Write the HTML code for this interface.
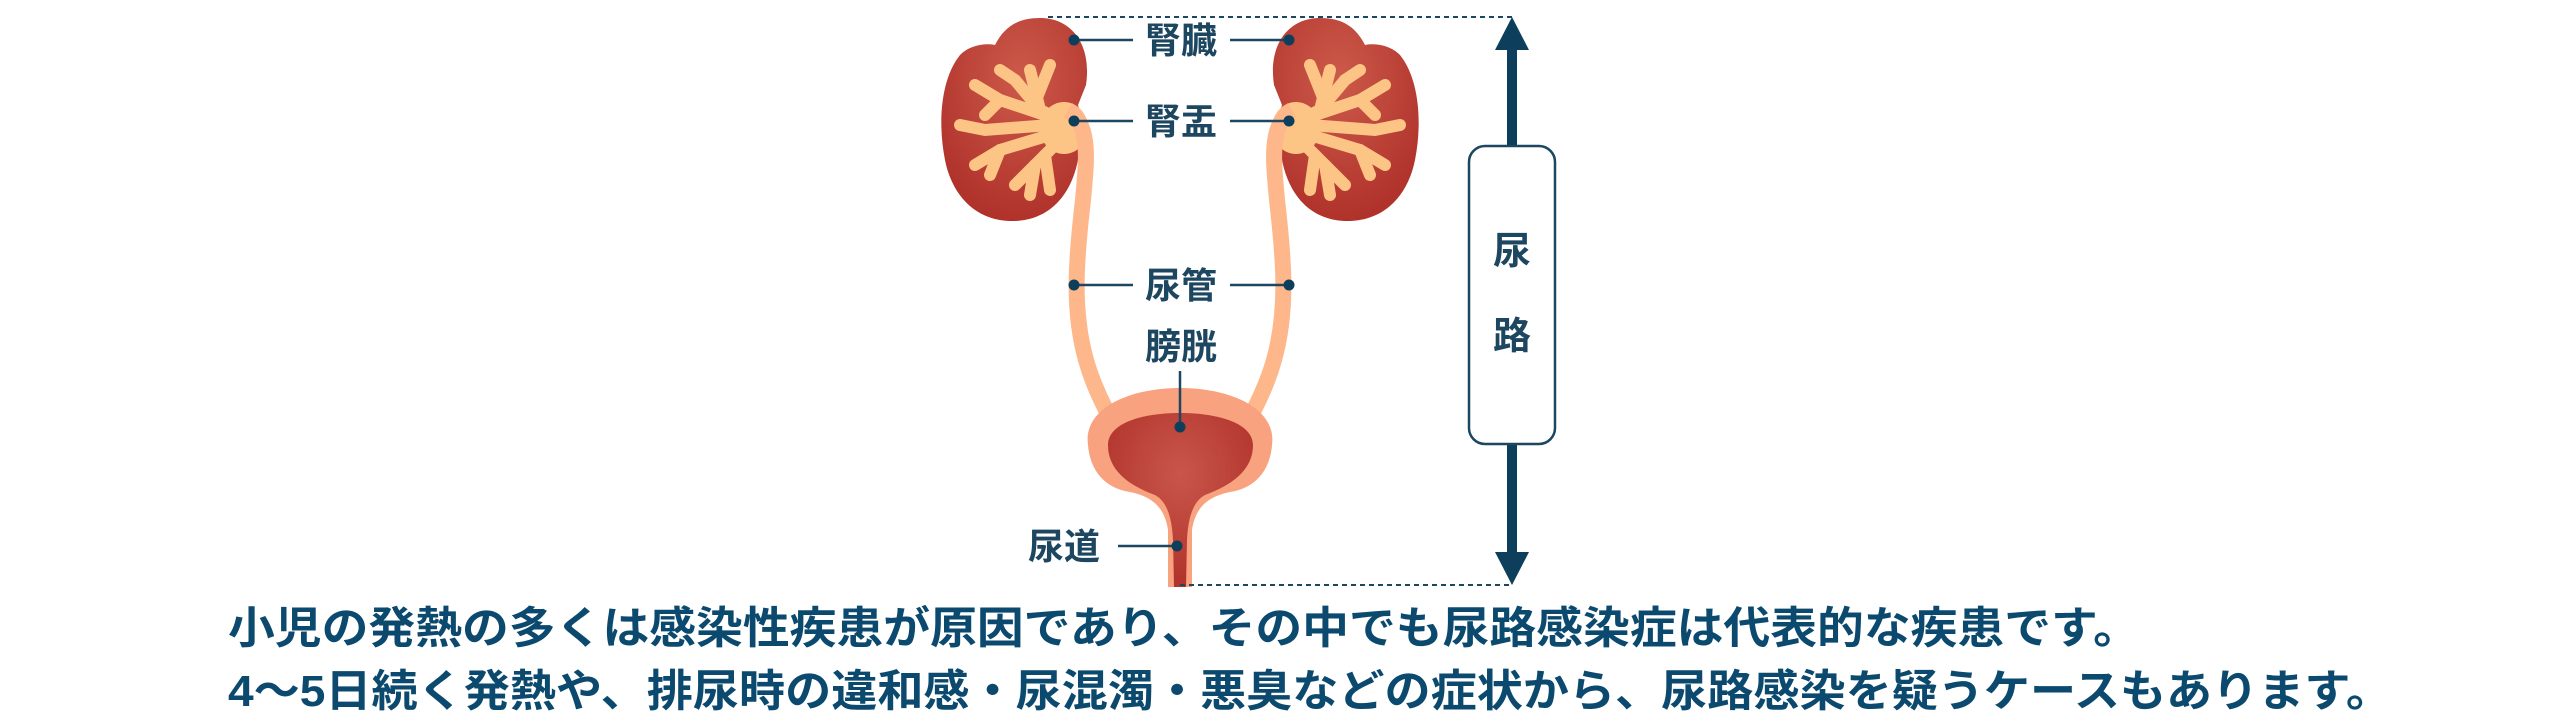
<!DOCTYPE html>
<html><head><meta charset="utf-8"><style>
html,body{margin:0;padding:0;background:#fff;}
svg{display:block;}
text{font-family:"Liberation Sans","Noto Sans CJK JP",sans-serif;}
</style></head><body>
<svg width="2560" height="727" viewBox="0 0 2560 727" xmlns="http://www.w3.org/2000/svg">
<defs>
<radialGradient id="kg" cx="0.55" cy="0.3" r="0.7">
<stop offset="0" stop-color="#cc5a4a"/><stop offset="1" stop-color="#b0322b"/></radialGradient>
<radialGradient id="bg" cx="0.5" cy="0.35" r="0.6">
<stop offset="0" stop-color="#c9564a"/><stop offset="1" stop-color="#b2352d"/></radialGradient>
<g id="kid">
<path d="M1040,18 C1072,18 1092,45 1086,85 L1078,105 C1084,122 1083,140 1078,160 C1070,200 1045,222 1010,221 C975,220 952,195 945,160 C938,125 940,80 960,55 C970,45 985,43 995,45 C1005,25 1020,18 1040,18 Z" fill="url(#kg)"/>
<g stroke="#fcc585" stroke-linecap="round" fill="none" stroke-width="12">
<path d="M1072,125 L1040,110 L1015,80"/><path d="M1040,110 L1030,70"/><path d="M1015,80 L1000,70"/><path d="M1038,95 L1050,65"/>
<path d="M1045,115 L1000,100 L975,85"/><path d="M1000,100 L985,115"/>
<path d="M1050,125 L985,130 L960,125"/>
<path d="M1050,135 L1000,150 L975,165"/><path d="M1000,150 L990,175"/>
<path d="M1060,140 L1035,165 L1030,195"/><path d="M1035,165 L1015,185"/><path d="M1045,155 L1050,190"/>
</g>
<ellipse cx="1064" cy="128" rx="24" ry="26" fill="#fcc585"/>
<path d="M1068,110 C1092,125 1086,165 1083,200 C1076,260 1072,310 1086,360 C1093,385 1105,410 1120,435" stroke="#fdb78a" stroke-width="16" fill="none"/>
</g>
</defs>
<use href="#kid"/>
<use href="#kid" transform="translate(2360,0) scale(-1,1)"/>
<path d="M1088,445 C1083,408 1130,388 1180,388 C1230,388 1277,408 1272,445 C1270,470 1256,488 1230,492 C1205,497 1195,510 1192,530 L1192,587 L1168,587 L1168,530 C1165,510 1155,497 1130,492 C1104,488 1090,470 1088,445 Z" fill="#f8a27f"/>
<path d="M1108,445 C1108,424 1140,413 1180,413 C1220,413 1253,424 1253,445 C1253,470 1232,485 1205,495 C1192,502 1188,520 1187,540 L1186,587 L1174,587 L1173,540 C1172,520 1168,502 1155,495 C1128,485 1108,470 1108,445 Z" fill="url(#bg)"/>
<g stroke="#1d4660" stroke-width="2" stroke-dasharray="5,4">
<line x1="1048" y1="17" x2="1512" y2="17"/><line x1="1180" y1="585" x2="1512" y2="585"/>
</g>
<g fill="#0d3f5c">
<rect x="1507" y="45" width="10" height="515"/>
<polygon points="1512,17 1529,50 1495,50"/>
<polygon points="1512,585 1529,552 1495,552"/>
</g>
<rect x="1469" y="146" width="86" height="298" rx="16" fill="#fff" stroke="#1d4660" stroke-width="2.5"/>
<g fill="#1d4660" font-size="38" font-weight="bold" text-anchor="middle">
<text x="1512" y="264">尿</text><text x="1512" y="349">路</text>
</g>
<g stroke="#1d4660" stroke-width="2.5">
<line x1="1074" y1="40" x2="1133" y2="40"/><line x1="1230" y1="40" x2="1289" y2="40"/>
<line x1="1074" y1="121" x2="1133" y2="121"/><line x1="1230" y1="121" x2="1289" y2="121"/>
<line x1="1074" y1="285" x2="1133" y2="285"/><line x1="1230" y1="285" x2="1289" y2="285"/>
<line x1="1180" y1="371" x2="1180" y2="427"/>
<line x1="1118" y1="546" x2="1177" y2="546"/>
</g>
<g fill="#0d3f5c">
<circle cx="1074" cy="40" r="5.5"/><circle cx="1289" cy="40" r="5.5"/>
<circle cx="1074" cy="121" r="5.5"/><circle cx="1289" cy="121" r="5.5"/>
<circle cx="1074" cy="285" r="5.5"/><circle cx="1289" cy="285" r="5.5"/>
<circle cx="1180" cy="427" r="5.5"/><circle cx="1177" cy="546" r="5.5"/>
</g>
<g fill="#1d4660" font-size="36" font-weight="bold" text-anchor="middle">
<text x="1181" y="53">腎臓</text>
<text x="1181" y="134">腎盂</text>
<text x="1181" y="298">尿管</text>
<text x="1181" y="359">膀胱</text>
<text x="1064" y="559">尿道</text>
</g>
<g fill="#0b4a6e" font-size="44" font-weight="bold">
<text x="228" y="643" textLength="1912" lengthAdjust="spacingAndGlyphs">小児の発熱の多くは感染性疾患が原因であり、その中でも尿路感染症は代表的な疾患です。</text>
<text x="228" y="706" textLength="2164" lengthAdjust="spacingAndGlyphs">4〜5日続く発熱や、排尿時の違和感・尿混濁・悪臭などの症状から、尿路感染を疑うケースもあります。</text>
</g>
</svg>
</body></html>
